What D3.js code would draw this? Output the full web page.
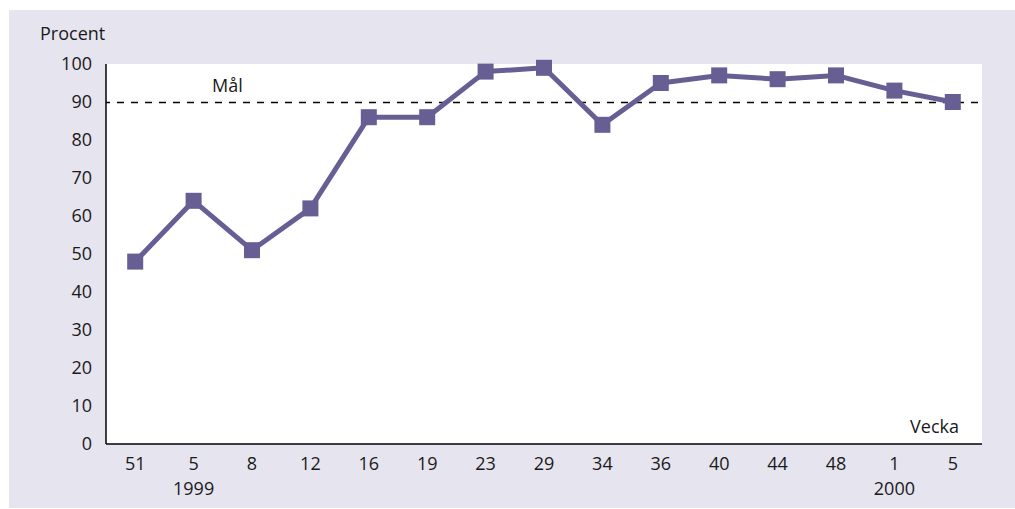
<!DOCTYPE html>
<html>
<head>
<meta charset="utf-8">
<script src="https://cdn.jsdelivr.net/npm/d3@7"></script>
<style>
  body { margin: 0; background: #fff; }
  svg { font-family: "Open Sans", "Noto Sans", sans-serif; }
</style>
</head>
<body>
<div id="chart"></div>
<script>
const weeks = ['51', '5', '8', '12', '16', '19', '23', '29', '34', '36', '40', '44', '48', '1', '5']
const years = [{ i: 1, label: '1999' }, { i: 13, label: '2000' }]
const procent = [48, 64, 51, 62, 86, 86, 98, 99, 84, 95, 97, 96, 97, 93, 90]
const yTicks = [0, 10, 20, 30, 40, 50, 60, 70, 80, 90, 100]
const goal = 90

const W = 1015, H = 509
const plotL = 106, plotR = 982, plotT = 64, plotB = 444
const purple = '#675e94'
const fs = 18

const svg = d3.select('#chart').append('svg')
  .attr('width', W).attr('height', H)

// lavender frame
svg.append('rect')
  .attr('x', 9).attr('y', 10).attr('width', W - 9).attr('height', 498)
  .attr('fill', '#e6e4ef')

svg.append('rect')
  .attr('x', plotL).attr('y', plotT).attr('width', plotR - plotL).attr('height', plotB - plotT)
  .attr('fill', '#fff')

const x = d3.scaleBand()
  .domain(d3.range(weeks.length))
  .range([plotL, plotR])

const y = d3.scaleLinear()
  .domain([0, 100])
  .range([plotB, plotT])

const cx = i => x(i) + x.bandwidth() / 2

// y axis labels
svg.append('g').selectAll('text')
  .data(yTicks).join('text')
  .attr('x', 92).attr('y', d => y(d) + 6)
  .attr('text-anchor', 'end')
  .attr('font-size', fs)
  .attr('fill', '#1a1a1a')
  .text(d => d)

// x labels
svg.append('g').selectAll('text')
  .data(weeks).join('text')
  .attr('x', (d, i) => cx(i)).attr('y', 470)
  .attr('text-anchor', 'middle')
  .attr('font-size', fs)
  .attr('fill', '#1a1a1a')
  .text(d => d)

svg.append('g').selectAll('text')
  .data(years).join('text')
  .attr('x', d => cx(d.i)).attr('y', 495)
  .attr('text-anchor', 'middle')
  .attr('font-size', fs)
  .attr('fill', '#1a1a1a')
  .text(d => d.label)

// axis lines
svg.append('line')
  .attr('x1', plotL).attr('x2', plotL).attr('y1', plotT).attr('y2', plotB)
  .attr('stroke', '#000').attr('stroke-width', 1.5)
svg.append('line')
  .attr('x1', plotL).attr('x2', plotR).attr('y1', plotB).attr('y2', plotB)
  .attr('stroke', '#000').attr('stroke-width', 1.5)

// goal line
svg.append('line')
  .attr('x1', plotL).attr('x2', plotR).attr('y1', y(goal) + 0.5).attr('y2', y(goal) + 0.5)
  .attr('stroke', '#000').attr('stroke-width', 1.5)
  .attr('stroke-dasharray', '7,7')
  .attr('stroke-dashoffset', 3)

svg.append('text')
  .attr('x', 212).attr('y', 92)
  .attr('font-size', fs).attr('fill', '#1a1a1a')
  .text('Mål')

svg.append('text')
  .attr('x', 40).attr('y', 40)
  .attr('font-size', fs).attr('fill', '#1a1a1a')
  .text('Procent')

svg.append('text')
  .attr('x', 959).attr('y', 433)
  .attr('text-anchor', 'end')
  .attr('font-size', fs).attr('fill', '#1a1a1a')
  .text('Vecka')

// series
const line = d3.line()
  .x((d, i) => cx(i))
  .y(d => y(d))

svg.append('path')
  .datum(procent)
  .attr('d', line)
  .attr('fill', 'none')
  .attr('stroke', purple)
  .attr('stroke-width', 5)
  .attr('stroke-linejoin', 'round')

const s = 16
svg.append('g').selectAll('rect')
  .data(procent).join('rect')
  .attr('x', (d, i) => cx(i) - s / 2)
  .attr('y', d => y(d) - s / 2)
  .attr('width', s).attr('height', s)
  .attr('fill', purple)
</script>
</body>
</html>
